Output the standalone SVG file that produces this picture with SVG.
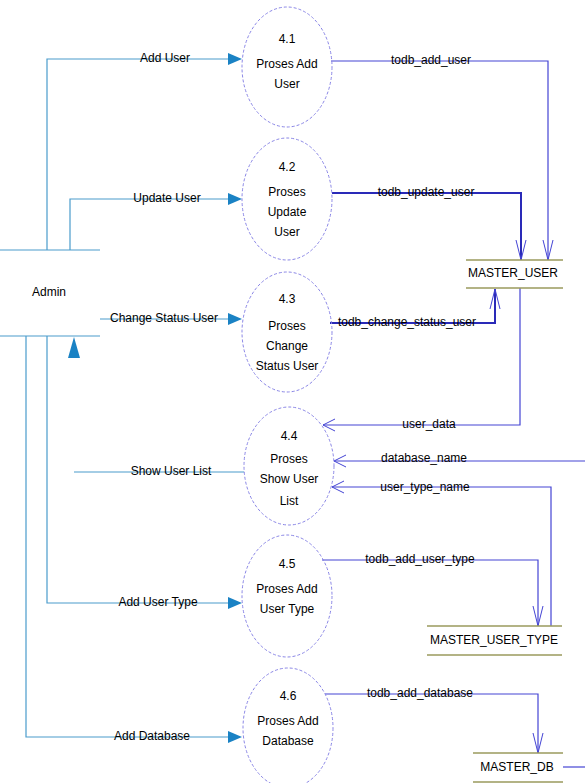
<svg xmlns="http://www.w3.org/2000/svg" width="585" height="783" viewBox="0 0 585 783">
<style>
text{font-family:"Liberation Sans",Arial,sans-serif;font-size:12px;fill:#000;text-anchor:middle;dominant-baseline:middle}
.proc{fill:none;stroke:#8a86e6;stroke-width:1;stroke-dasharray:3 2}
.ent{stroke:#4a9ccc;stroke-width:1.2;fill:none}
.fl{stroke:#4a9ccc;stroke-width:1.2;fill:none}
.ah{fill:#1a82c4}
.df{stroke:#4444d4;stroke-width:1.2;fill:none}
.dfb{stroke:#2a2ab8;stroke-width:2;fill:none}
.oa{stroke:#4444d4;stroke-width:1;fill:none}
.st{stroke:#9a9a5c;stroke-width:1.5}
</style>
<rect width="585" height="783" fill="#fff"/>
<g id="connectors">
<polyline class="fl" points="47,250 47,59 228,59"/>
<polygon class="ah" points="228,53 242,59 228,65"/>
<polyline class="fl" points="70,250 70,199 228,199"/>
<polygon class="ah" points="228,193 242,199 228,205"/>
<polyline class="fl" points="100,319 228,319"/>
<polygon class="ah" points="228,313 242,319 228,325"/>
<polyline class="fl" points="244,472 74,472"/>
<polygon class="ah" points="68,358 74,337 80,358"/>
<polyline class="fl" points="47,336 47,603 228,603"/>
<polygon class="ah" points="228,597 242,603 228,609"/>
<polyline class="fl" points="26,336 26,737 228,737"/>
<polygon class="ah" points="228,731 242,737 228,743"/>
<polyline class="df" points="331,61 548,61 548,260"/>
<polyline class="oa" points="543,240 548,260 553,240"/>
<polyline class="dfb" points="332,193 521,193 521,260"/>
<polyline class="oa" points="516,240 521,260 526,240"/>
<polyline class="dfb" points="330,323 495,323 495,289"/>
<polyline class="oa" points="490,309 495,289 500,309"/>
<polyline class="df" points="520,288 520,425 323,425"/>
<polyline class="oa" points="335,419 323,425 335,431"/>
<polyline class="df" points="585,461 334,461"/>
<polyline class="oa" points="346,455 334,461 346,467"/>
<polyline class="df" points="551,626 551,487 332,487"/>
<polyline class="oa" points="344,481 332,487 344,493"/>
<polyline class="df" points="322,560 538,560 538,626"/>
<polyline class="oa" points="533,606 538,626 543,606"/>
<polyline class="df" points="325,694 538,694 538,753"/>
<polyline class="oa" points="533,733 538,753 543,733"/>
<polyline class="df" points="563,767 585,767"/>
<text x="165" y="59">Add User</text>
<text x="167" y="199">Update User</text>
<text x="164" y="319">Change Status User</text>
<text x="171" y="472">Show User List</text>
<text x="158" y="603">Add User Type</text>
<text x="152" y="737">Add Database</text>
<text x="431" y="61">todb_add_user</text>
<text x="426" y="193">todb_update_user</text>
<text x="407" y="323">todb_change_status_user</text>
<text x="429" y="425">user_data</text>
<text x="424" y="459">database_name</text>
<text x="425" y="488">user_type_name</text>
<text x="420" y="560">todb_add_user_type</text>
<text x="420" y="694">todb_add_database</text>
</g>
<g id="admin">
<line class="ent" x1="0" y1="250" x2="100" y2="250"/>
<line class="ent" x1="0" y1="336" x2="100" y2="336"/>
<text x="49" y="293">Admin</text>
</g>
<g id="p41">
<ellipse class="proc" cx="287" cy="67" rx="45" ry="60"/>
<text x="287" y="40">4.1</text>
<text x="287" y="65">Proses Add</text>
<text x="287" y="85">User</text>
</g>
<g id="p42">
<ellipse class="proc" cx="287" cy="199" rx="45" ry="61"/>
<text x="287" y="168">4.2</text>
<text x="287" y="193">Proses</text>
<text x="287" y="213">Update</text>
<text x="287" y="233">User</text>
</g>
<g id="p43">
<ellipse class="proc" cx="287" cy="332" rx="45" ry="60"/>
<text x="287" y="300">4.3</text>
<text x="287" y="327">Proses</text>
<text x="287" y="347">Change</text>
<text x="287" y="367">Status User</text>
</g>
<g id="p44">
<ellipse class="proc" cx="289" cy="466" rx="45" ry="59"/>
<text x="289" y="437">4.4</text>
<text x="289" y="460">Proses</text>
<text x="289" y="480">Show User</text>
<text x="289" y="502">List</text>
</g>
<g id="p45">
<ellipse class="proc" cx="287" cy="596" rx="45" ry="61"/>
<text x="287" y="565">4.5</text>
<text x="287" y="590">Proses Add</text>
<text x="287" y="610">User Type</text>
</g>
<g id="p46">
<ellipse class="proc" cx="288" cy="728" rx="45" ry="60"/>
<text x="288" y="697">4.6</text>
<text x="288" y="722">Proses Add</text>
<text x="288" y="742">Database</text>
</g>
<g id="master_user">
<line class="st" x1="466" y1="260" x2="563" y2="260"/>
<line class="st" x1="466" y1="288" x2="563" y2="288"/>
<text x="513" y="274">MASTER_USER</text>
</g>
<g id="master_user_type">
<line class="st" x1="427" y1="626" x2="562" y2="626"/>
<line class="st" x1="427" y1="655" x2="562" y2="655"/>
<text x="494" y="641">MASTER_USER_TYPE</text>
</g>
<g id="master_db">
<line class="st" x1="473" y1="753" x2="563" y2="753"/>
<line class="st" x1="473" y1="782" x2="563" y2="782"/>
<text x="517" y="768">MASTER_DB</text>
</g>
</svg>
